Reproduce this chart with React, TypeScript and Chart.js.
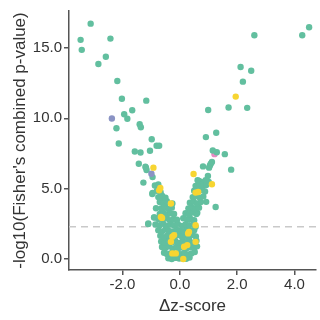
import { useEffect, useRef } from "react";
import { Chart, registerables } from "chart.js";

Chart.register(...registerables);

// ---- data (Δz-score, -log10 combined p) ----
const tealPoints: [number, number][] = [
  // left wing
  [-3.46, 15.57], [-3.11, 16.72], [-3.42, 14.86], [-2.42, 15.66], [-2.58, 14.37], [-2.84, 13.85],
  [-2.18, 12.65], [-2.02, 11.39], [-1.17, 11.25], [-1.66, 10.57], [-1.94, 10.28], [-1.83, 9.96],
  [-2.21, 9.29], [-1.4, 9.58], [-1.36, 9.36], [-2.13, 8.21], [-0.98, 8.51], [-0.81, 8.05],
  [-1.57, 7.64], [-1.37, 7.57], [-1.04, 7.69], [-0.72, 8.05],
  // right wing
  [2.6, 15.9], [4.27, 15.9], [4.51, 16.47], [2.12, 13.64], [2.49, 13.38], [2.2, 12.6],
  [0.99, 10.59], [1.7, 10.76], [2.35, 10.74], [0.91, 8.66], [1.27, 8.97], [1.29, 7.59],
  [1.57, 7.45], [1.15, 7.71], [1.08, 6.77], [1.02, 6.49], [1.79, 6.35], [0.98, 5.9],
  [0.67, 5.54], [0.81, 6.58], [1.05, 6.65], [1.12, 6.89], [0.74, 5.47], [1.01, 5.47],
  [0.84, 5.36], [0.92, 4.06], [1.25, 3.7], [0.42, 3.4], [0.61, 3.28],
  // left mid
  [-1.43, 6.77], [-1.18, 6.49], [-1.2, 6.56], [-1.16, 6.32], [-1.27, 5.43], [-0.95, 5.82],
  [-0.87, 5.22], [-0.96, 4.62], [-0.57, 4.25], [-0.26, 3.94], [-0.52, 3.82], [-0.83, 3.61],
  [-0.89, 2.95], [-1.1, 2.53], [-1.1, 2.48],
  // dense core
  [-0.4, 0.05], [-0.28, 0.0], [-0.15, 0.08], [-0.02, 0.03], [0.1, 0.06], [0.22, 0.02], [0.34, 0.1],
  [-0.55, 0.45], [-0.45, 0.35], [-0.33, 0.4], [-0.2, 0.3], [-0.08, 0.42], [0.04, 0.35], [0.16, 0.45],
  [0.28, 0.32], [0.4, 0.4], [0.52, 0.5],
  [-0.62, 0.85], [-0.5, 0.78], [-0.38, 0.9], [-0.25, 0.75], [-0.12, 0.85], [0.0, 0.8], [0.12, 0.9],
  [0.25, 0.78], [0.38, 0.85], [0.5, 0.8], [0.6, 0.9],
  [-0.65, 1.25], [-0.52, 1.15], [-0.4, 1.3], [-0.28, 1.2], [-0.15, 1.25], [-0.03, 1.15], [0.1, 1.3],
  [0.22, 1.2], [0.35, 1.25], [0.47, 1.15], [0.58, 1.3],
  [-0.68, 1.65], [-0.55, 1.55], [-0.42, 1.7], [-0.3, 1.6], [-0.18, 1.55], [-0.05, 1.7], [0.07, 1.6],
  [0.2, 1.65], [0.32, 1.55], [0.45, 1.7], [0.56, 1.6],
  [-0.75, 2.05], [-0.62, 1.95], [-0.5, 2.1], [-0.38, 2.0], [-0.25, 1.95], [-0.12, 2.1], [0.0, 2.0],
  [0.13, 1.95], [0.25, 2.1], [0.38, 2.0], [0.5, 2.05],
  [-0.85, 2.45], [-0.7, 2.4], [-0.57, 2.5], [-0.45, 2.35], [-0.32, 2.45], [-0.2, 2.4], [-0.07, 2.5],
  [0.08, 2.35], [0.2, 2.45], [0.33, 2.4], [0.47, 2.45], [0.55, 2.3],
  [-0.9, 2.96], [-0.75, 2.85], [-0.6, 2.8], [-0.48, 2.9], [-0.35, 2.75], [-0.22, 2.85], [-0.1, 2.8],
  [0.12, 2.9], [0.25, 2.8], [0.38, 2.85], [0.5, 2.75],
  [-0.7, 3.2], [-0.58, 3.3], [-0.45, 3.15], [-0.33, 3.25], [-0.2, 3.2], [0.2, 3.25], [0.32, 3.15],
  [0.45, 3.3], [0.58, 3.2], [0.4, 3.45],
  [-0.65, 3.6], [-0.52, 3.7], [-0.4, 3.55], [-0.28, 3.65], [0.3, 3.6], [0.42, 3.7], [0.55, 3.55],
  [0.67, 3.65],
  [-0.7, 4.05], [-0.58, 3.95], [-0.45, 4.1], [0.35, 4.0], [0.48, 4.1], [0.6, 3.95], [0.73, 4.05],
  [-0.75, 4.4], [-0.62, 4.5], [-0.5, 4.35], [0.45, 4.4], [0.58, 4.5], [0.7, 4.35], [0.82, 4.45],
  [-0.95, 4.7], [-0.8, 4.85], [-0.67, 4.75], [0.5, 4.85], [0.63, 4.9], [0.76, 4.9], [0.88, 4.8],
  [-0.75, 5.3], [0.55, 5.2], [0.68, 5.3], [0.8, 5.15], [0.92, 5.25],
  [0.62, 5.6], [0.9, 5.6],
];

const yellowPoints: [number, number][] = [
  [-0.92, 6.49], [0.48, 6.04], [1.95, 11.54], [1.12, 5.31], [-0.68, 5.05], [-0.72, 4.88],
  [0.55, 4.72], [0.64, 4.76], [-0.31, 3.94], [-0.62, 2.92], [-0.66, 2.99], [0.32, 1.93],
  [0.55, 2.4], [0.29, 1.82], [-0.2, 1.7], [-0.26, 1.58], [0.55, 1.22], [-0.31, 1.22],
  [0.26, 0.99], [0.15, 0.87], [-0.26, 0.4], [-0.14, 0.4], [0.12, 0.0],
];

const purplePoints: [number, number][] = [[-2.37, 9.98], [-0.99, 6.06]];
const pinkPoints: [number, number][] = [[1.21, 7.45]];

const threshold = 2.3;
const xTicks = [-2, 0, 2, 4];
const yTicks = [0, 5, 10, 15];
const xRange = [-3.865, 4.75];
const yRange = [-0.78, 17.62];

const toXY = (arr: [number, number][]) => arr.map(([x, y]) => ({ x, y }));

export default function App() {
  const ref = useRef<HTMLCanvasElement | null>(null);

  useEffect(() => {
    document.body.style.margin = "0";
    if (!ref.current) return;
    const family = "'Liberation Sans', Arial, sans-serif";
    const textColor = "#333";
    const axisColor = "#555";

    const chart = new Chart(ref.current, {
      type: "scatter",
      data: {
        datasets: [
          {
            data: toXY(yellowPoints),
            backgroundColor: "#F7D531",
            pointRadius: 3.2,
            borderWidth: 0,
          },
          {
            data: toXY(purplePoints),
            backgroundColor: "#8A93C4",
            pointRadius: 3.2,
            borderWidth: 0,
          },
          {
            data: toXY(tealPoints),
            backgroundColor: "#62BF9F",
            pointRadius: 3.2,
            borderWidth: 0,
          },
          {
            data: toXY(pinkPoints),
            backgroundColor: "#E78AC3",
            pointRadius: 3.2,
            borderWidth: 0,
          },
          {
            data: [
              { x: xRange[0], y: threshold },
              { x: xRange[1], y: threshold },
            ],
            showLine: true,
            borderColor: "#c9c9c9",
            borderWidth: 1.5,
            borderDash: [7, 5],
            pointRadius: 0,
          } as any,
        ],
      },
      options: {
        animation: false,
        responsive: false,
        layout: { padding: { left: 0, top: 10, right: 2, bottom: 0 } },
        plugins: { legend: { display: false }, tooltip: { enabled: false } },
        scales: {
          x: {
            type: "linear",
            min: xRange[0],
            max: xRange[1],
            afterBuildTicks: (s: any) => {
              s.ticks = xTicks.map((v) => ({ value: v }));
            },
            afterFit: (s: any) => {
              s.height = 50;
            },
            ticks: {
              font: { size: 15, family },
              color: textColor,
              padding: 1,
              maxRotation: 0,
              autoSkip: false,
              callback: (v: any) => Number(v).toFixed(1),
            },
            grid: {
              display: true,
              drawOnChartArea: false,
              drawTicks: true,
              tickLength: 5,
              color: axisColor,
              lineWidth: 1.5,
            },
            border: { display: true, color: axisColor, width: 1.5 },
            title: {
              display: true,
              text: "Δz-score",
              font: { size: 17, family },
              color: textColor,
              padding: { top: 0, bottom: 3 },
            },
          },
          y: {
            type: "linear",
            min: yRange[0],
            max: yRange[1],
            afterBuildTicks: (s: any) => {
              s.ticks = yTicks.map((v) => ({ value: v }));
            },
            afterFit: (s: any) => {
              s.width = 69;
            },
            ticks: {
              font: { size: 15, family },
              color: textColor,
              padding: 2,
              autoSkip: false,
              callback: (v: any) => Number(v).toFixed(1),
            },
            grid: {
              display: true,
              drawOnChartArea: false,
              drawTicks: true,
              tickLength: 5,
              color: axisColor,
              lineWidth: 1.5,
            },
            border: { display: true, color: axisColor, width: 1.5 },
            title: {
              display: true,
              text: "-log10(Fisher's combined p-value)",
              font: { size: 17, family },
              color: textColor,
              padding: { top: 10, bottom: 0 },
            },
          },
        },
      },
    });
    return () => chart.destroy();
  }, []);

  return (
    <div style={{ width: 320, height: 320 }}>
      <canvas ref={ref} width={320} height={320} style={{ display: "block" }} />
    </div>
  );
}
